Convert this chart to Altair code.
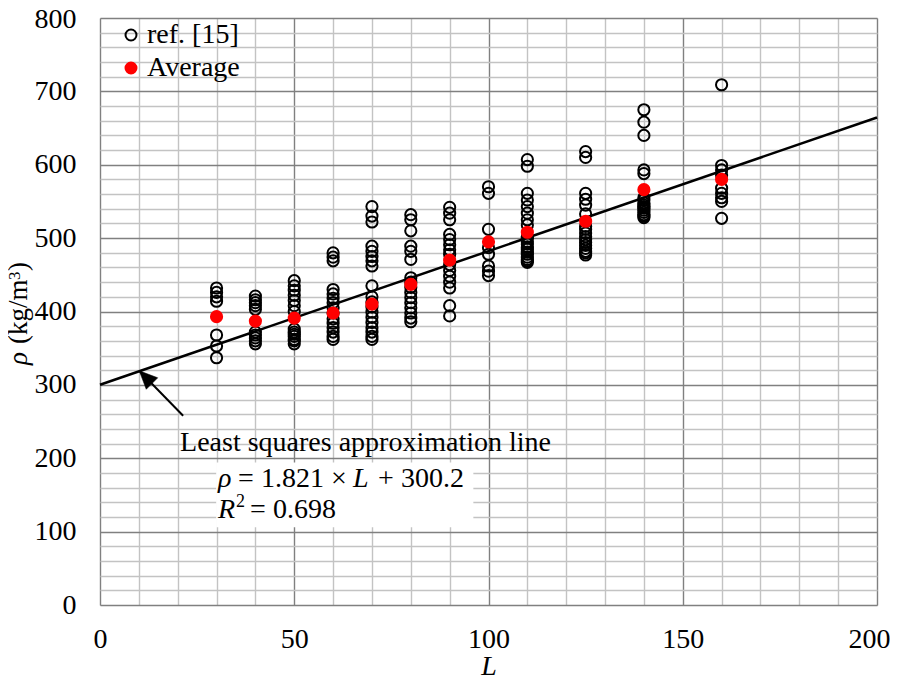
import altair as alt
import pandas as pd

# ---------------- data ----------------
ref_L = [30, 40, 50, 60, 70, 80, 90, 100, 110, 125, 140, 160]
rho_L30 = [432, 426, 420, 414, 368, 353, 337]
rho_L40 = [421, 416, 412, 408, 403, 372, 368, 364, 360, 356]
rho_L50 = [442, 435, 429, 422, 415, 408, 400, 376, 372, 369, 366, 362, 360, 356]
rho_L60 = [480, 474, 469, 430, 424, 418, 412, 405, 398, 390, 384, 378, 372, 366, 362]
rho_L70 = [543, 530, 522, 489, 482, 475, 469, 462, 435, 420, 413, 406, 399, 392,
           385, 378, 372, 366, 362]
rho_L80 = [532, 525, 510, 489, 482, 471, 446, 440, 433, 426, 419, 412, 405, 398, 391, 386]
rho_L90 = [542, 534, 525, 505, 498, 491, 484, 478, 464, 456, 448, 440, 432, 408, 394]
rho_L100 = [570, 561, 512, 487, 478, 462, 455, 449]
rho_L110 = [607, 598, 561, 552, 543, 534, 525, 518, 502, 500, 495, 492, 488, 485,
            481, 478, 474, 471, 469, 467]
rho_L125 = [618, 610, 561, 553, 545, 533, 516, 512, 507, 502, 498, 494, 490, 486,
            482, 480, 477]
rho_L140 = [675, 658, 640, 593, 588, 555, 552, 548, 545, 543, 541, 538, 535, 532,
            530, 528]
rho_L160 = [709, 599, 593, 586, 568, 561, 555, 550, 527]
ref_rho = [rho_L30, rho_L40, rho_L50, rho_L60, rho_L70, rho_L80, rho_L90,
           rho_L100, rho_L110, rho_L125, rho_L140, rho_L160]

avg_L = [30, 40, 50, 60, 70, 80, 90, 100, 110, 125, 140, 160]
avg_rho = [393, 387, 391, 398, 410, 437, 470, 495, 508, 523, 566, 580]

fit_slope = 1.821
fit_intercept = 300.2
fit_L = [0, 200]

series_names = ["ref. [15]", "Average"]

x_tick_labels = [0, 50, 100, 150, 200]
y_tick_labels = [0, 100, 200, 300, 400, 500, 600, 700, 800]
x_grid = list(range(0, 201, 10))
y_grid = list(range(0, 801, 20))

annot_line1 = "Least squares approximation line"

# ---------------- tables ----------------
rows = []
for L, vals in zip(ref_L, ref_rho):
    for v in vals:
        rows.append({"L": L, "rho": v, "series": series_names[0]})
for L, v in zip(avg_L, avg_rho):
    rows.append({"L": L, "rho": v, "series": series_names[1]})
points_df = pd.DataFrame(rows)

fit_df = pd.DataFrame({"L": fit_L, "rho": [fit_slope * L + fit_intercept for L in fit_L]})

FONT = "Liberation Serif"
FS = 28

xscale = alt.Scale(domain=[0, 200], nice=False, zero=False)
yscale = alt.Scale(domain=[0, 800], nice=False, zero=False)

x_label_test = " || ".join(f"datum.value === {v}" for v in x_tick_labels)
y_label_test = " || ".join(f"datum.value === {v}" for v in y_tick_labels)

x_axis = alt.Axis(
    values=x_grid,
    tickCount=100,
    labelExpr=f"({x_label_test}) ? datum.label : ''",
    grid=True,
    gridColor={"condition": {"test": x_label_test, "value": "#808080"}, "value": "#c3c3c3"},
    gridWidth=1.4,
    ticks=False,
    domain=False,
    labelFont=FONT,
    labelFontSize=FS,
    labelColor="black",
    labelPadding=20,
    labelFlush=False,
    labelOverlap=False,
    labelOffset={"condition": {"test": "datum.value === 200", "value": -8}, "value": 0},
    title="L",
    titleFont=FONT,
    titleFontSize=FS,
    titleFontStyle="italic",
    titleFontWeight="normal",
    titleColor="black",
    titleBaseline="alphabetic",
    titleY=69,
)
y_axis = alt.Axis(
    values=y_grid,
    tickCount=100,
    labelExpr=f"({y_label_test}) ? datum.label : ''",
    grid=True,
    gridColor={"condition": {"test": y_label_test, "value": "#808080"}, "value": "#c3c3c3"},
    gridWidth=1.4,
    ticks=False,
    domain=False,
    labelFont=FONT,
    labelFontSize=FS,
    labelColor="black",
    labelPadding=24,
    labelFlush=False,
    labelOverlap=False,
    labelOffset={"condition": {"test": "datum.value === 800", "value": 1}, "value": 0},
    title=None,
)

fit_line = alt.Chart(fit_df).mark_line(color="black", strokeWidth=2.5).encode(
    x=alt.X("L:Q", scale=xscale, axis=x_axis),
    y=alt.Y("rho:Q", scale=yscale, axis=y_axis),
)

legend = alt.Legend(
    title=None, orient="none", legendX=17, legendY=3,
    labelFont=FONT, labelFontSize=FS, labelColor="black",
    symbolSize=120, symbolStrokeWidth=2, symbolType="circle",
    rowPadding=5, padding=0, labelOffset=2,
)

points = alt.Chart(points_df).mark_point(
    filled=True, size=125, strokeWidth=2, opacity=1, shape="circle"
).encode(
    x="L:Q",
    y="rho:Q",
    fill=alt.Fill("series:N", scale=alt.Scale(domain=series_names, range=["transparent", "#ff0000"]), legend=legend),
    stroke=alt.Stroke("series:N", scale=alt.Scale(domain=series_names, range=["black", "#ff0000"]), legend=legend),
)

# arrow pointing at the fitted line
arrow_df = pd.DataFrame({"L": [21.4, 10.1], "rho": [258.0, 319.2]})
arrow_line = alt.Chart(arrow_df).mark_line(color="black", strokeWidth=2).encode(x="L:Q", y="rho:Q")
arrow_head = alt.Chart(arrow_df.iloc[[1]]).mark_point(
    shape="M0,0 L0.45,1 L-0.45,1 Z", size=1300, filled=True, fill="black",
    stroke="black", strokeWidth=0.5, opacity=1, angle=315
).encode(x="L:Q", y="rho:Q")

# white box behind the equation
box_df = pd.DataFrame({"x1": [29.9], "x2": [96.1], "y1": [105.9], "y2": [194.2]})
box = alt.Chart(box_df).mark_rect(fill="white").encode(
    x="x1:Q", x2="x2:Q", y="y1:Q", y2="y2:Q"
)


def seg(text, L, rho, dx=0, dy=0, italic=False, size=FS):
    df = pd.DataFrame({"L": [L], "rho": [rho], "t": [text]})
    return alt.Chart(df).mark_text(
        font=FONT, fontSize=size, fontStyle="italic" if italic else "normal",
        align="left", baseline="alphabetic", color="black", dx=dx, dy=dy
    ).encode(x="L:Q", y="rho:Q", text="t:N")


ax_L, ax_rho2, ax_rho3 = 30.4, 160.7, 118.2
texts = [
    seg(annot_line1, 20.6, 210.5),
    seg("ρ", ax_L, ax_rho2, 0, 0, True),
    seg("= 1.821", ax_L, ax_rho2, 20),
    seg("×", ax_L, ax_rho2, 113),
    seg("L", ax_L, ax_rho2, 135, 0, True),
    seg("+ 300.2", ax_L, ax_rho2, 160),
    seg("R", ax_L, ax_rho3, 0, 0, True),
    seg("2", ax_L, ax_rho3, 18, -11, False, 18),
    seg("= 0.698", ax_L, ax_rho3, 32),
]


def ytitle(text, xpix, ypix, italic=False, size=27):
    df = pd.DataFrame({"t": [text]})
    return alt.Chart(df).mark_text(
        font=FONT, fontSize=size, fontStyle="italic" if italic else "normal",
        align="left", baseline="alphabetic", color="black", angle=270
    ).encode(x=alt.value(xpix), y=alt.value(ypix), text="t:N")


ytitles = [
    ytitle("ρ", -73, 347, True),
    ytitle("(kg/m", -73, 326),
    ytitle("3", -80, 262, False, 17),
    ytitle(")", -73, 253),
]

chart = alt.layer(
    fit_line, points, arrow_line, arrow_head, box, *texts, *ytitles
).properties(
    width=777, height=587,
    padding={"left": 92, "top": 10, "right": 13, "bottom": 74},
    autosize=alt.AutoSizeParams(type="none"),
).configure_view(stroke="black", strokeWidth=1.8).configure(background="white")

chart.save("out.html", embed_options={"renderer": "svg", "actions": False})
